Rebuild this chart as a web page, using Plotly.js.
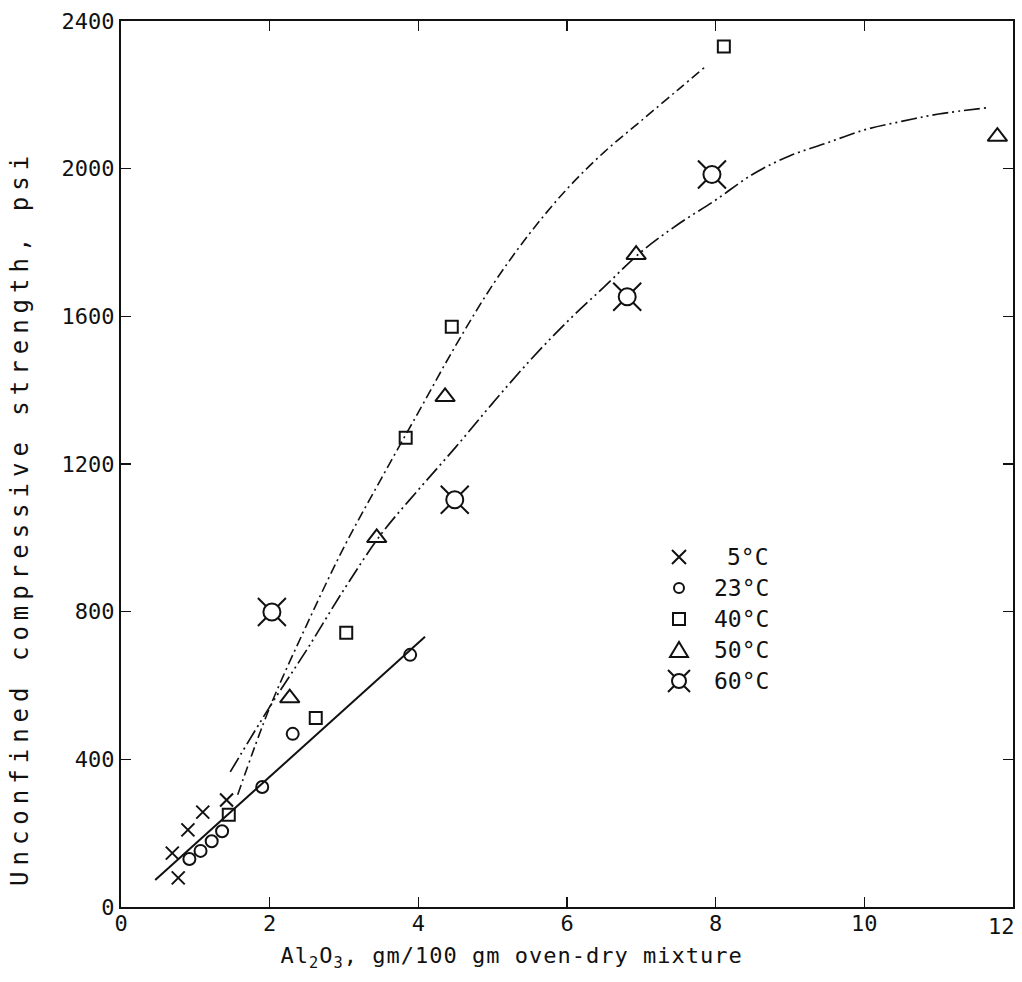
<!DOCTYPE html>
<html>
<head>
<meta charset="utf-8">
<script src="https://cdn.plot.ly/plotly-3.0.1.min.js"></script>
<style>
  html, body { margin: 0; padding: 0; background: #fff; }
  #chart { width: 1022px; height: 982px; }
</style>
</head>
<body>
<div id="chart"></div>
<script>
// Measured specimens: Al2O3 content (gm/100 gm oven-dry mixture) vs strength (psi)
const x5 = [0.69, 0.77, 0.90, 1.10, 1.42];
const y5 = [146, 79, 209, 257, 290];

const x23 = [0.92, 1.07, 1.22, 1.36, 1.90, 2.31, 3.89];
const y23 = [130, 152, 178, 205, 325, 469, 683];

const x40 = [1.45, 2.62, 3.03, 3.83, 4.45, 8.11];
const y40 = [250, 512, 743, 1271, 1572, 2331];

const x50 = [2.27, 3.44, 4.36, 6.93, 11.79];
const y50 = [566, 1000, 1382, 1767, 2087];

const x60 = [2.03, 4.49, 6.81, 7.95];
const y60 = [799, 1103, 1653, 1984];

// Fitted trend curves
const fit23x = [0.46, 4.09];
const fit23y = [73, 732];

const fit40x = [1.57, 2.0, 2.5, 3.0, 3.5, 4.0, 4.5, 5.0, 5.5, 6.0, 6.5, 7.0, 7.5, 7.86];
const fit40y = [304, 540, 765, 975, 1160, 1340, 1520, 1685, 1825, 1945, 2045, 2130, 2215, 2276];

const fit50x = [1.47, 2.0, 2.5, 3.0, 3.5, 4.0, 4.5, 5.0, 5.5, 6.0, 6.5, 7.0, 7.5, 8.0, 8.5, 9.0, 9.5, 10.0, 10.5, 11.0, 11.65];
const fit50y = [366, 542, 697, 860, 1010, 1130, 1245, 1365, 1480, 1585, 1680, 1775, 1850, 1915, 1985, 2035, 2070, 2105, 2128, 2148, 2165];

// Axis ticks; the end of the x axis is labelled separately, tucked into the frame corner
const xTicks = [0, 2, 4, 6, 8, 10];
const xTickText = ['0', '2', '4', '6', '8', '10'];
const xEnd = 12;
const xEndLabel = '12';
const yTicks = [0, 400, 800, 1200, 1600, 2000, 2400];
const yTickText = ['0', '400', '800', '1200', '1600', '2000', '2400'];

const xTitle = 'Al<sub>2</sub>O<sub>3</sub>, gm/100 gm oven-dry mixture';
const yTitle = 'Unconfined compressive strength, psi';

// Key entries
const keyLabels = ['5\u00B0C', '23\u00B0C', '40\u00B0C', '50\u00B0C', '60\u00B0C'];
const keySymbols = ['cross', 'circle', 'square', 'triangle', 'sun'];

const FONT = 'DejaVu Sans Mono, monospace';
const INK = '#111';

const W = 1022, H = 982;
const M = { l: 121, r: 9, t: 21, b: 75 };
const plotW = W - M.l - M.r, plotH = H - M.t - M.b;
const px2x = px => (px - M.l) / plotW;
const py2y = py => (H - M.b - py) / plotH;

function markerTrace(xs, ys, symbol, size, extra) {
  return Object.assign({
    x: xs, y: ys, type: 'scatter', mode: 'markers', showlegend: false, hoverinfo: 'skip',
    marker: { symbol: symbol, size: size, color: INK, line: { color: INK, width: 2 } }
  }, extra || {});
}

const traces = [
  { x: fit23x, y: fit23y, type: 'scatter', mode: 'lines', showlegend: false,
    line: { color: INK, width: 2 } },
  { x: fit40x, y: fit40y, type: 'scatter', mode: 'lines', showlegend: false,
    line: { color: INK, width: 1.6, shape: 'spline', dash: '10px,4px,2px,4px' } },
  { x: fit50x, y: fit50y, type: 'scatter', mode: 'lines', showlegend: false,
    line: { color: INK, width: 1.7, shape: 'spline', dash: '16px,4px,2px,4px,2px,4px' } },
  markerTrace(x5, y5, 'x-thin-open', 13),
  markerTrace(x23, y23, 'circle-open', 12),
  markerTrace(x40, y40, 'square-open', 12),
  markerTrace(x50, y50, 'triangle-up-open', 17),
  markerTrace(x60, y60, 'x-thin-open', 28),
  markerTrace(x60, y60, 'circle', 17, {
    marker: { symbol: 'circle', size: 17, color: '#fff', line: { color: INK, width: 2 } }
  })
];

// Key: symbols drawn as pixel-sized shapes, labels as annotations
const keyTop = 557, keyStep = 31, keySymX = 679, keyTextRight = 771;
const shapes = [];
const annotations = [];
const symLine = { color: INK, width: 2 };
function pixShape(type, xa, ya, extra) {
  return Object.assign({
    type: type, xref: 'paper', yref: 'paper', xsizemode: 'pixel', ysizemode: 'pixel',
    xanchor: xa, yanchor: ya, line: symLine
  }, extra);
}
keyLabels.forEach((lab, i) => {
  const py = keyTop + i * keyStep;
  const xa = px2x(keySymX), ya = py2y(py);
  const s = keySymbols[i];
  if (s === 'cross') {
    shapes.push(pixShape('path', xa, ya, { path: 'M-7,-7L7,7M-7,7L7,-7' }));
  } else if (s === 'circle') {
    shapes.push(pixShape('circle', xa, ya, { x0: -5, x1: 5, y0: -5, y1: 5 }));
  } else if (s === 'square') {
    shapes.push(pixShape('rect', xa, ya, { x0: -6, x1: 6, y0: -6, y1: 6 }));
  } else if (s === 'triangle') {
    shapes.push(pixShape('path', xa, ya, { path: 'M-9,-7L9,-7L0,8Z' }));
  } else {
    shapes.push(pixShape('circle', xa, ya, { x0: -7, x1: 7, y0: -7, y1: 7 }));
    shapes.push(pixShape('path', xa, ya, { path: 'M-5,5L-11,11M5,5L11,11M-5,-5L-11,-11M5,-5L11,-11' }));
  }
  annotations.push({
    xref: 'paper', yref: 'paper', x: px2x(keyTextRight), y: ya,
    xanchor: 'right', yanchor: 'middle', showarrow: false, text: lab,
    font: { family: FONT, size: 23, color: INK }
  });
});

// Number at the right end of the x axis
annotations.push({
  xref: 'x', yref: 'paper', x: xEnd, y: 0,
  xanchor: 'right', yanchor: 'top', xshift: 4, yshift: -5, showarrow: false,
  text: xEndLabel, font: { family: FONT, size: 22, color: INK }
});

// Axis titles
annotations.push({
  xref: 'paper', yref: 'paper', x: px2x(511), y: py2y(957),
  xanchor: 'center', yanchor: 'middle', showarrow: false, text: xTitle,
  font: { family: FONT, size: 22, color: INK }
});
annotations.push({
  xref: 'paper', yref: 'paper', x: px2x(20), y: py2y(518),
  xanchor: 'center', yanchor: 'middle', showarrow: false, text: yTitle, textangle: -90,
  font: { family: FONT, size: 24, color: INK }
});

const axisCommon = {
  showgrid: false, zeroline: false, showline: true, mirror: 'ticks',
  linecolor: INK, linewidth: 2, ticks: 'inside', ticklen: 10, tickwidth: 1.5, tickcolor: INK,
  tickfont: { family: FONT, size: 22, color: INK }, tickmode: 'array', fixedrange: true
};

const layout = {
  width: W, height: H,
  margin: M,
  paper_bgcolor: '#fff', plot_bgcolor: '#fff',
  showlegend: false,
  xaxis: Object.assign({}, axisCommon, {
    range: [0, xEnd], tickvals: xTicks, ticktext: xTickText, ticklabelstandoff: -4
  }),
  yaxis: Object.assign({}, axisCommon, {
    range: [0, 2400], tickvals: yTicks, ticktext: yTickText
  }),
  shapes: shapes,
  annotations: annotations
};

Plotly.newPlot('chart', traces, layout, { displayModeBar: false, staticPlot: true }).then(gd => {
  // Spread the letters of the titles, as on the typed original
  gd.querySelectorAll('.annotation-text').forEach(t => {
    if (t.textContent === yTitle) t.style.letterSpacing = '6px';
    if (t.textContent.indexOf('oven-dry') >= 0) t.style.letterSpacing = '1px';
  });
});
</script>
</body>
</html>
